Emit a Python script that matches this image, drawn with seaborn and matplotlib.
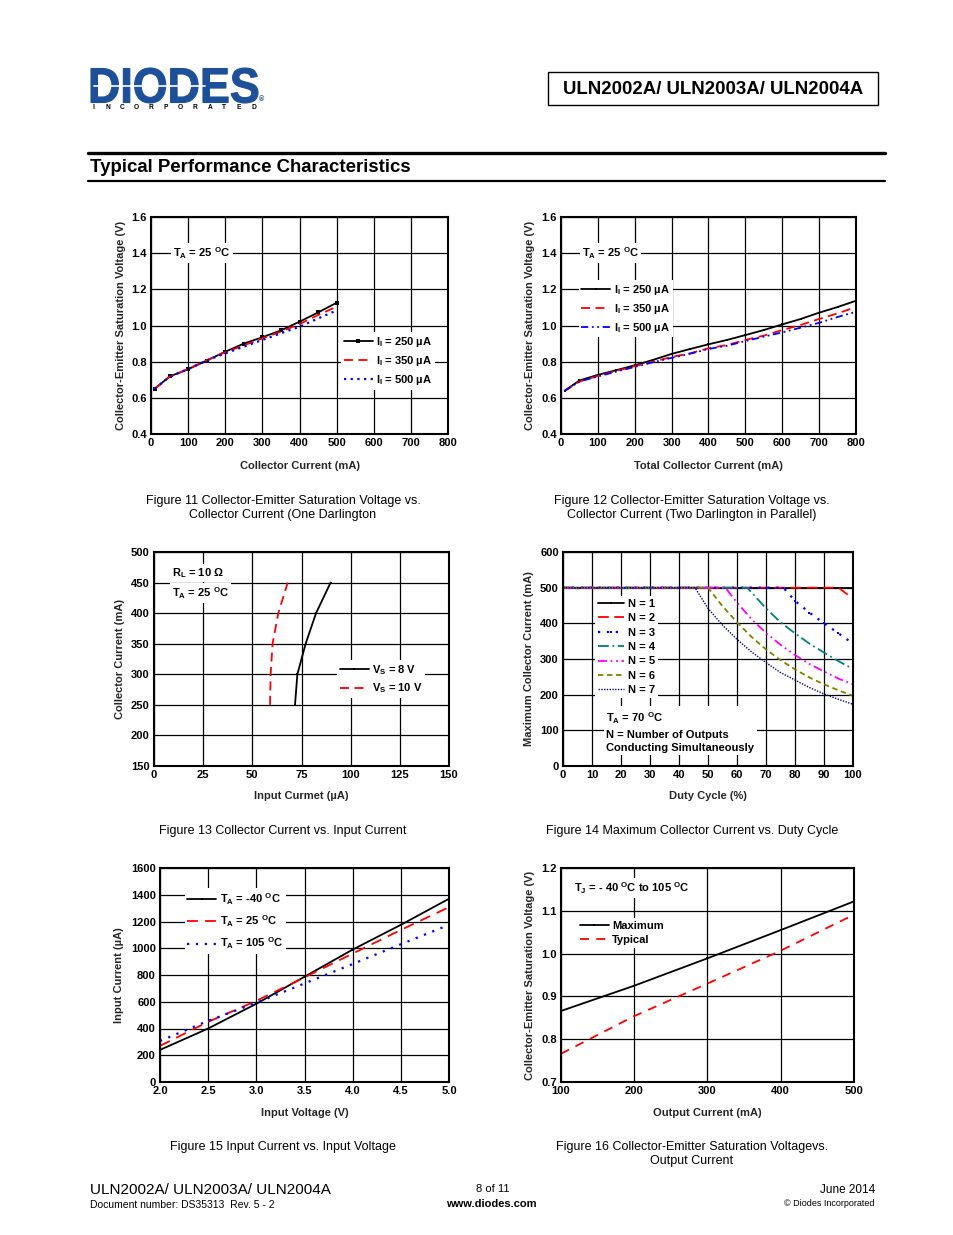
"""
ULN2002A/3A/4A datasheet page 8 - Typical Performance Characteristics
"""

import matplotlib
matplotlib.use("Agg")
import matplotlib.pyplot as plt
import seaborn as sns
from matplotlib.font_manager import FontProperties
from matplotlib.lines import Line2D
from matplotlib.patches import PathPatch, Rectangle
from matplotlib.textpath import TextPath
from matplotlib.transforms import Affine2D

# --- Figure 11: Vce(sat) vs collector current, one Darlington ---
F11_IC = [10, 50, 100, 150, 200, 250, 300, 350, 400, 450, 500]
F11_VCE_250 = [0.650, 0.718, 0.758, 0.806, 0.855, 0.900, 0.935, 0.973, 1.021, 1.072, 1.126]
F11_VCE_350 = [0.650, 0.716, 0.760, 0.808, 0.852, 0.890, 0.929, 0.966, 1.008, 1.058, 1.104]
F11_VCE_500 = [0.650, 0.716, 0.760, 0.806, 0.846, 0.883, 0.920, 0.957, 0.993, 1.039, 1.083]

# --- Figure 12: Vce(sat) vs total collector current, two Darlingtons ---
F12_IC = [10, 50, 100, 150, 200, 250, 300, 350, 400, 450, 500, 550, 600, 650, 700, 750, 800]
F12_VCE_250 = [0.639, 0.696, 0.727, 0.753, 0.780, 0.810, 0.843, 0.870, 0.896, 0.920,
               0.947, 0.975, 1.006, 1.036, 1.071, 1.102, 1.137]
F12_VCE_350 = [0.639, 0.690, 0.721, 0.749, 0.775, 0.800, 0.826, 0.846, 0.874, 0.892,
               0.920, 0.944, 0.975, 1.003, 1.036, 1.067, 1.102]
F12_VCE_500 = [0.639, 0.690, 0.718, 0.745, 0.771, 0.797, 0.821, 0.844, 0.870, 0.888,
               0.914, 0.938, 0.962, 0.988, 1.015, 1.047, 1.076]

# --- Figure 13: collector current vs input current ---
F13_IC = [250, 300, 350, 400, 450]
F13_IIN_8V = [71.7, 72.9, 77.1, 82.4, 89.8]
F13_IIN_10V = [59.0, 59.3, 60.3, 63.2, 68.0]

# --- Figure 14: max collector current vs duty cycle (TA = 70 C) ---
N1_DUTY = [0, 10, 20, 30, 40, 50, 60, 70, 80, 90, 100]
N1_IC = [500, 500, 500, 500, 500, 500, 500, 500, 500, 500, 500]
N2_DUTY = [0, 10, 20, 30, 40, 50, 60, 70, 80, 90, 95, 100]
N2_IC = [500, 500, 500, 500, 500, 500, 500, 500, 500, 500, 500, 469]
N3_DUTY = [0, 10, 20, 30, 40, 50, 60, 70, 76, 80, 85, 90, 95, 100]
N3_IC = [500, 500, 500, 500, 500, 500, 500, 500, 500, 463, 430, 400, 372, 343]
N4_DUTY = [0, 10, 20, 30, 40, 50, 60, 63.5, 65, 70, 75, 80, 85, 90, 95, 100]
N4_IC = [500, 500, 500, 500, 500, 500, 500, 500, 487, 442, 403, 372, 343, 318, 294, 272]
N5_DUTY = [0, 10, 20, 30, 40, 50, 56, 60, 65, 70, 75, 80, 85, 90, 95, 100]
N5_IC = [500, 500, 500, 500, 500, 500, 500, 458, 412, 373, 340, 311, 286, 265, 245, 229]
N6_DUTY = [0, 10, 20, 30, 40, 50, 55, 60, 65, 70, 75, 80, 85, 90, 95, 100]
N6_IC = [500, 500, 500, 500, 500, 500, 448, 403, 362, 327, 297, 271, 248, 229, 212, 197]
N7_DUTY = [0, 10, 20, 30, 40, 45.5, 50, 55, 60, 65, 70, 75, 80, 85, 90, 95, 100]
N7_IC = [500, 500, 500, 500, 500, 500, 442, 395, 355, 320, 290, 262, 241, 220, 202, 187, 173]

# --- Figure 15: input current vs input voltage ---
F15_VIN = [2.0, 2.5, 3.0, 3.5, 4.0, 4.5, 5.0]
F15_IIN_M40 = [240, 400, 585, 787, 990, 1175, 1370]
F15_IIN_25 = [270, 450, 607, 782, 960, 1137, 1307]
F15_IIN_105 = [307, 457, 592, 737, 882, 1030, 1175]

# --- Figure 16: Vce(sat) vs output current ---
F16_IO = [100, 200, 300, 400, 500]
F16_VCE_MAX = [0.866, 0.925, 0.989, 1.055, 1.122]
F16_VCE_TYP = [0.766, 0.854, 0.930, 1.007, 1.091]

W, H = 954, 1235
BLUE_LOGO = "#1d5099"

sns.set_theme(style="white")
plt.rcParams["font.family"] = ["Liberation Sans", "DejaVu Sans"]
plt.rcParams["font.weight"] = "bold"
plt.rcParams["mathtext.default"] = "regular"
plt.rcParams["axes.edgecolor"] = "black"
plt.rcParams["axes.linewidth"] = 1.5
plt.rcParams["text.color"] = "black"
plt.rcParams["xtick.color"] = "black"
plt.rcParams["ytick.color"] = "black"

fig = plt.figure(figsize=(W / 100, H / 100), dpi=100)
fig.patch.set_facecolor("white")


def px(x, y):
    return x / W, 1 - y / H


def add_panel(left, top, right, bottom):
    ax = fig.add_axes([left / W, 1 - bottom / H, (right - left) / W, (bottom - top) / H])
    ax.set_facecolor("white")
    ax.grid(True, color="black", lw=0.9)
    ax.set_axisbelow(True)
    ax.tick_params(length=0, pad=3, labelsize=8)
    for lab in ax.get_xticklabels() + ax.get_yticklabels():
        lab.set_fontweight("bold")
    return ax


def draw(ax, x, y, color, ls, label, lw=1.3, marker=None, ms=2.5):
    sns.lineplot(x=x, y=y, ax=ax, color=color, linestyle=ls, lw=lw, label=label,
                 sort=False, estimator=None, marker=marker, markersize=ms,
                 markeredgewidth=0)


def legend(ax, x, y, spacing=0.45, hl=2.6):
    leg = ax.legend(loc="upper left", bbox_to_anchor=(x, y), frameon=True, fancybox=False,
                    framealpha=1, edgecolor="none", facecolor="white", borderpad=0.25,
                    borderaxespad=0, handlelength=hl, handletextpad=0.3,
                    labelspacing=spacing, prop={"size": 8, "weight": "bold"})
    leg.set_zorder(5)


def note(ax, x, y, s, **kw):
    ax.text(x, y, s, transform=ax.transAxes, fontsize=8, fontweight="bold", zorder=6,
            bbox=dict(fc="white", ec="none", pad=1.5), **kw)


def labels(ax, xlabel, ylabel, box, xlab_y, ylab_x):
    left, top, right, bottom = box
    ax.set_xlabel(xlabel, fontsize=8, fontweight="bold")
    ax.set_ylabel(ylabel, fontsize=8, fontweight="bold")
    ax.xaxis.set_label_coords(0.5, (bottom - xlab_y) / (bottom - top))
    ax.yaxis.set_label_coords((ylab_x - left) / (right - left), 0.5)


def caption(xc, yc, s):
    fig.text(*px(xc, yc), s, ha="center", va="center", fontsize=9, fontweight="normal",
             linespacing=1.32)


TA25 = "T$_{A}$ = 25 $^{O}$C"

# --- Figure 11 ---
B11 = (151, 217, 448, 434)
ax = add_panel(*B11)
draw(ax, F11_IC, F11_VCE_250, "black", "-", "I$_{I}$ = 250 µA", marker="s")
draw(ax, F11_IC, F11_VCE_350, "red", (0, (5, 3)), "I$_{I}$ = 350 µA")
draw(ax, F11_IC, F11_VCE_500, "blue", (0, (1, 2)), "I$_{I}$ = 500 µA", lw=1.6)
ax.set_xlim(0, 800)
ax.set_ylim(0.4, 1.6)
ax.set_xticks(range(0, 801, 100))
ax.set_yticks([0.4, 0.6, 0.8, 1.0, 1.2, 1.4, 1.6])
ax.set_yticklabels(["0.4", "0.6", "0.8", "1.0", "1.2", "1.4", "1.6"])
legend(ax, 0.64, 0.47)
note(ax, 0.075, 0.835, TA25, va="center")
labels(ax, "Collector Current (mA)", "Collector-Emitter Saturation Voltage (V)", B11, 461, 126)
caption(283, 508, "Figure 11 Collector-Emitter Saturation Voltage vs.\nCollector Current (One Darlington")

# --- Figure 12 ---
B12 = (561, 217, 856, 434)
ax = add_panel(*B12)
draw(ax, F12_IC, F12_VCE_250, "black", "-", "I$_{I}$ = 250 µA", marker="s", ms=2)
draw(ax, F12_IC, F12_VCE_350, "red", (0, (5, 3)), "I$_{I}$ = 350 µA")
draw(ax, F12_IC, F12_VCE_500, "blue", (0, (4, 2, 1, 2, 1, 2)), "I$_{I}$ = 500 µA")
ax.set_xlim(0, 800)
ax.set_ylim(0.4, 1.6)
ax.set_xticks(range(0, 801, 100))
ax.set_yticks([0.4, 0.6, 0.8, 1.0, 1.2, 1.4, 1.6])
ax.set_yticklabels(["0.4", "0.6", "0.8", "1.0", "1.2", "1.4", "1.6"])
legend(ax, 0.06, 0.71)
note(ax, 0.07, 0.835, TA25, va="center")
labels(ax, "Total Collector Current (mA)", "Collector-Emitter Saturation Voltage (V)", B12, 461, 535)
caption(692, 508, "Figure 12 Collector-Emitter Saturation Voltage vs.\n"
                  "Collector Current (Two Darlington in Parallel)")

# --- Figure 13 ---
B13 = (154, 552, 449, 766)
ax = add_panel(*B13)
draw(ax, F13_IIN_8V, F13_IC, "black", "-", "V$_{S}$ = 8 V", marker="s", ms=2)
draw(ax, F13_IIN_10V, F13_IC, "red", (0, (5, 3)), "V$_{S}$ = 10 V")
ax.set_xlim(0, 150)
ax.set_ylim(150, 500)
ax.set_xticks(range(0, 151, 25))
ax.set_yticks(range(150, 501, 50))
legend(ax, 0.62, 0.495)
note(ax, 0.06, 0.9, "R$_{L}$ = 10 Ω", va="center")
note(ax, 0.06, 0.807, TA25, va="center")
labels(ax, "Input Curmet (µA)", "Collector Current (mA)", B13, 791, 125)
caption(283, 831, "Figure 13 Collector Current vs. Input Current")

# --- Figure 14 ---
B14 = (563, 552, 853, 766)
ax = add_panel(*B14)
draw(ax, N1_DUTY, N1_IC, "black", "-", "N = 1", marker="s", ms=2)
draw(ax, N2_DUTY, N2_IC, "red", (0, (6, 3)), "N = 2")
draw(ax, N3_DUTY, N3_IC, "blue", (0, (1, 3)), "N = 3", lw=1.6, marker="s", ms=2)
draw(ax, N4_DUTY, N4_IC, "#008080", (0, (6, 2, 1, 2)), "N = 4")
draw(ax, N5_DUTY, N5_IC, "#ff00ff", (0, (5, 2, 1, 2, 1, 2)), "N = 5")
draw(ax, N6_DUTY, N6_IC, "#808000", (0, (3, 2)), "N = 6")
draw(ax, N7_DUTY, N7_IC, "#000080", (0, (1, 1)), "N = 7", lw=1.0)
ax.set_xlim(0, 100)
ax.set_ylim(0, 600)
ax.set_xticks(range(0, 101, 10))
ax.set_yticks(range(0, 601, 100))
legend(ax, 0.11, 0.795, spacing=0.4, hl=2.4)
note(ax, 0.15, 0.06, "T$_{A}$ = 70 $^{O}$C\nN = Number of Outputs\nConducting Simultaneously",
     va="bottom", linespacing=1.45)
labels(ax, "Duty Cycle (%)", "Maximum Collector Current (mA)", B14, 791, 534)
caption(692, 831, "Figure 14 Maximum Collector Current vs. Duty Cycle")

# --- Figure 15 ---
B15 = (160, 868, 449, 1082)
ax = add_panel(*B15)
draw(ax, F15_VIN, F15_IIN_M40, "black", "-", "T$_{A}$ = -40 $^{O}$C", marker="s", ms=2)
draw(ax, F15_VIN, F15_IIN_25, "red", (0, (6, 4)), "T$_{A}$ = 25 $^{O}$C")
draw(ax, F15_VIN, F15_IIN_105, "blue", (0, (1, 3)), "T$_{A}$ = 105 $^{O}$C", lw=1.6)
ax.set_xlim(2.0, 5.0)
ax.set_ylim(0, 1600)
ax.set_xticks([2.0, 2.5, 3.0, 3.5, 4.0, 4.5, 5.0])
ax.set_xticklabels(["2.0", "2.5", "3.0", "3.5", "4.0", "4.5", "5.0"])
ax.set_yticks(range(0, 1601, 200))
legend(ax, 0.085, 0.905, spacing=0.6)
labels(ax, "Input Voltage (V)", "Input Current (µA)", B15, 1108, 124)
caption(692 - 409, 1154, "Figure 15 Input Current vs. Input Voltage\n ")

# --- Figure 16 ---
B16 = (561, 868, 854, 1082)
ax = add_panel(*B16)
draw(ax, F16_IO, F16_VCE_MAX, "black", "-", "Maximum", marker="s", ms=2)
draw(ax, F16_IO, F16_VCE_TYP, "red", (0, (5, 4)), "Typical")
ax.set_xlim(100, 500)
ax.set_ylim(0.7, 1.2)
ax.set_xticks(range(100, 501, 100))
ax.set_yticks([0.7, 0.8, 0.9, 1.0, 1.1, 1.2])
ax.set_yticklabels(["0.7", "0.8", "0.9", "1.0", "1.1", "1.2"])
legend(ax, 0.055, 0.765, spacing=0.35)
note(ax, 0.045, 0.905, "T$_{J}$ = - 40 $^{O}$C to 105 $^{O}$C", va="center")
labels(ax, "Output Current (mA)", "Collector-Emitter Saturation Voltage (V)", B16, 1108, 535)
caption(692, 1154, "Figure 16 Collector-Emitter Saturation Voltagevs.\nOutput Current")

# --- header ---
tp = TextPath((0, 0), "DIODES", size=1, prop=FontProperties(family="Liberation Sans", weight="bold"))
ext = tp.get_extents()
logo_tf = (Affine2D().translate(-ext.x0, -ext.y0)
           .scale((258 - 91) / ext.width, (103 - 68) / ext.height)
           .translate(91, H - 103).scale(1 / W, 1 / H) + fig.transFigure)
fig.add_artist(PathPatch(tp, transform=logo_tf, fc=BLUE_LOGO, ec=BLUE_LOGO, lw=0.8))
fig.add_artist(Line2D([94 / W, 205 / W], [1 - 86 / H, 1 - 86 / H], color="white", lw=1.2))
fig.text(*px(259, 100), "®", fontsize=5, color=BLUE_LOGO, va="center")
for i, ch in enumerate("INCORPORATED"):
    fig.text(*px(93 + i * 14.6, 107.5), ch, fontsize=4.8, fontweight="bold", ha="center", va="center")

fig.add_artist(Rectangle((548 / W, 1 - 105 / H), 330 / W, 33 / H, transform=fig.transFigure,
                         fill=False, ec="black", lw=1.0))
fig.text(*px(713, 89), "ULN2002A/ ULN2003A/ ULN2004A", fontsize=13.4, fontweight="bold",
         ha="center", va="center")

fig.add_artist(Line2D([88 / W, 885 / W], [1 - 153 / H, 1 - 153 / H], color="black", lw=2.4))
fig.add_artist(Line2D([88 / W, 885 / W], [1 - 180.5 / H, 1 - 180.5 / H], color="black", lw=1.6))
fig.text(*px(90, 167), "Typical Performance Characteristics", fontsize=13.4, fontweight="bold",
         ha="left", va="center")

# --- footer ---
fig.text(*px(90, 1190), "ULN2002A/ ULN2003A/ ULN2004A", fontsize=11, fontweight="normal",
         ha="left", va="center")
fig.text(*px(90, 1205), "Document number: DS35313  Rev. 5 - 2", fontsize=7.5, fontweight="normal",
         ha="left", va="center")
fig.text(*px(493, 1189), "8 of 11", fontsize=8, fontweight="normal", ha="center", va="center")
fig.text(*px(491, 1204), "www.diodes.com", fontsize=8, fontweight="bold", ha="center", va="center")
fig.text(*px(875, 1190), "June 2014", fontsize=8.5, fontweight="normal", ha="right", va="center")
fig.text(*px(875, 1204), "© Diodes Incorporated", fontsize=6.5, fontweight="normal",
         ha="right", va="center")

fig.savefig("out.png", dpi=100, facecolor="white")
